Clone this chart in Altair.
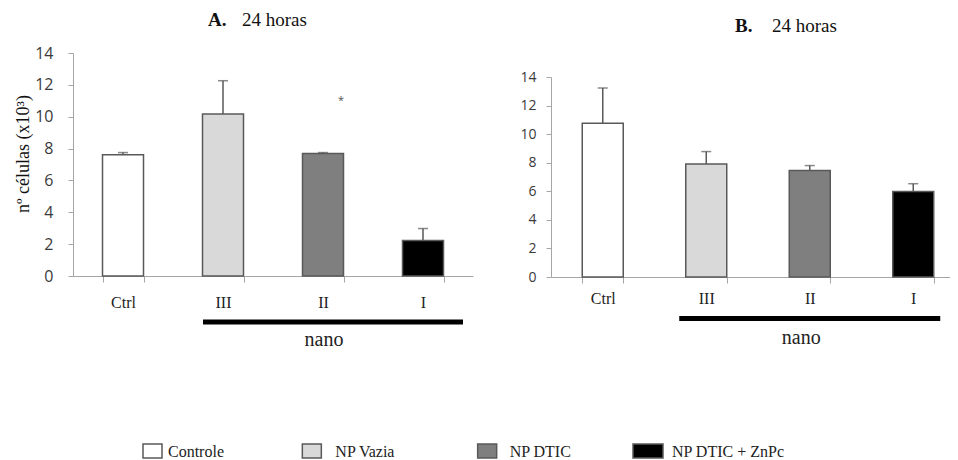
import altair as alt
import pandas as pd

# ---------------- data ----------------
categories = ["Ctrl", "III", "II", "I"]
groups = ["Controle", "NP Vazia", "NP DTIC", "NP DTIC + ZnPc"]
fill_colors = ["#ffffff", "#d9d9d9", "#7f7f7f", "#000000"]

a_means = [7.61, 10.17, 7.69, 2.23]
a_upper = [7.75, 12.26, 7.75, 2.98]
a_star = 11.15

b_means = [10.77, 7.91, 7.45, 5.99]
b_upper = [13.23, 8.78, 7.80, 6.53]

y_ticks = [0, 2, 4, 6, 8, 10, 12, 14]

title_a = ["A.", "24 horas"]
title_b = ["B.", "24 horas"]
y_title = "nº células (x10³)"
nano_label = "nano"

SERIF = "Liberation Serif"
SANS = "Open Sans"
AXIS_GRAY = "#a6a6a6"
EDGE = "#595959"

W, H = 942, 452


def panel(means, upper, x_range, pad_inner, pad_outer, y_range,
          y_off, x_off, ylab_pad, ylab_size, xlab_pad,
          nano_y, nano_x0, nano_x1, nano_dx, nano_ty, star=None):
    df = pd.DataFrame({"cat": categories, "mean": means, "upper": upper})
    xs = alt.Scale(domain=categories, range=x_range,
                   paddingInner=pad_inner, paddingOuter=pad_outer)
    ys = alt.Scale(domain=[0, 14], range=y_range, nice=False, zero=True)
    fs = alt.Scale(domain=categories, range=fill_colors)
    x_axis = alt.Axis(
        orient="bottom", offset=x_off, title=None, labelAngle=0,
        tickBand="extent", tickSize=6, tickColor=AXIS_GRAY,
        domainColor=AXIS_GRAY, labelFont=SERIF, labelFontSize=16,
        labelColor="#222222", labelPadding=xlab_pad, grid=False)
    y_axis = alt.Axis(
        orient="left", offset=y_off, values=y_ticks, title=None,
        tickSize=5, tickColor=AXIS_GRAY, domainColor=AXIS_GRAY,
        labelFont=SANS, labelFontSize=ylab_size, labelColor="#3a3a3a",
        labelPadding=ylab_pad, grid=False)
    X = lambda: alt.X("cat:N", scale=xs, sort=categories, axis=x_axis, title=None)

    base = alt.Chart(df)
    bars = base.mark_bar(stroke=EDGE, strokeWidth=1.5).encode(
        x=X(),
        y=alt.Y("mean:Q", scale=ys, axis=y_axis, title=None),
        fill=alt.Fill("cat:N", scale=fs, legend=None),
    )
    err = base.mark_rule(color=EDGE, strokeWidth=1.5).encode(
        x=X(),
        y=alt.Y("mean:Q", scale=ys, axis=y_axis, title=None),
        y2="upper:Q",
    )
    cap = base.mark_tick(color=EDGE, thickness=1.5, size=10).encode(
        x=X(),
        y=alt.Y("upper:Q", scale=ys, axis=y_axis, title=None),
    )
    layers = [bars, err, cap]
    if star is not None:
        star_df = pd.DataFrame({"cat": ["II"], "v": [star], "t": ["*"]})
        layers.append(alt.Chart(star_df).mark_text(
            font=SANS, fontSize=11, color="#555555", dx=18, dy=3
        ).encode(
            x=X(),
            y=alt.Y("v:Q", scale=ys, axis=y_axis, title=None),
            text="t:N",
        ))

    nano_df = pd.DataFrame({"a": ["III"], "b": ["I"], "t": [nano_label]})
    nano_line = alt.Chart(nano_df).mark_rule(
        color="#000000", strokeWidth=5, xOffset=nano_x0, x2Offset=nano_x1
    ).encode(
        x=alt.X("a:N", scale=xs, axis=None),
        x2="b:N",
        y=alt.value(nano_y),
    )
    nano_text = alt.Chart(nano_df).mark_text(
        font=SERIF, fontSize=20, color="#222222", dx=nano_dx,
        baseline="alphabetic"
    ).encode(
        x=alt.X("a:N", scale=xs, axis=None),
        y=alt.value(nano_ty),
        text="t:N",
    )
    return alt.layer(*layers), alt.layer(nano_line, nano_text)


panel_a, nano_a = panel(a_means, a_upper, [65, 465], 0.59, 0.295, [268, 45],
                        -65, -H + 268, 15, 16, 12, 314, -20, 40, 101, 338, star=a_star)
panel_b, nano_b = panel(b_means, b_upper, [543, 957], 0.604, 0.302, [269, 69],
                        -543, -H + 269, 10, 14, 7, 310.5, -27, 27, 95, 336)

# titles
def txt(s, x, y, size, bold=False, angle=0, align="left", baseline="alphabetic"):
    props = dict(font=SERIF, fontSize=size, color="#111111", align=align,
                 baseline=baseline, fontWeight="bold" if bold else "normal")
    if angle:
        props["angle"] = angle
    return alt.Chart(pd.DataFrame({"t": [s]})).mark_text(**props).encode(
        x=alt.value(x), y=alt.value(y), text="t:N")

titles = [
    txt(title_a[0], 200, 18, 19, bold=True),
    txt(title_a[1], 234, 18, 19),
    txt(title_b[0], 727, 24, 19, bold=True),
    txt(title_b[1], 764, 24, 19),
    txt(y_title, 15.5, 146, 18, angle=270, align="center", baseline="middle"),
]

# legend: one small layer per entry (box nudge, box width, label offset)
leg_df = pd.DataFrame({"g": groups})
lx = alt.Scale(domain=groups, range=[135, 625], type="point", padding=0)
lf = alt.Scale(domain=groups, range=fill_colors)
leg_style = [(0, 19, 25), (-4, 19, 29), (8, 19, 40), (0, 30, 39)]
LY0, LY1, LYM = 436, 450, 444
leg_layers = []
for g, (nudge, bw, tdx) in zip(groups, leg_style):
    src = alt.Chart(leg_df).transform_filter(alt.datum.g == g)
    leg_layers.append(src.mark_rect(
        stroke=EDGE, strokeWidth=1.5, xOffset=nudge, x2Offset=nudge + bw
    ).encode(
        x=alt.X("g:N", scale=lx, axis=None), x2="g:N",
        y=alt.value(LY0), y2=alt.value(LY1),
        fill=alt.Fill("g:N", scale=lf, legend=None)))
    leg_layers.append(src.mark_text(
        font=SERIF, fontSize=16, color="#222222", align="left",
        baseline="middle", dx=tdx
    ).encode(x=alt.X("g:N", scale=lx, axis=None), y=alt.value(LYM), text="g:N"))
legend = alt.layer(*leg_layers)

chart = alt.layer(panel_a, nano_a, panel_b, nano_b, legend, *titles).resolve_scale(
    x="independent", y="independent", fill="independent"
).properties(
    width=W, height=H, padding=0, background="white",
    autosize=alt.AutoSizeParams(type="none")
).configure_view(strokeWidth=0)

chart.save("out.html", embed_options={"renderer": "svg", "actions": False})
